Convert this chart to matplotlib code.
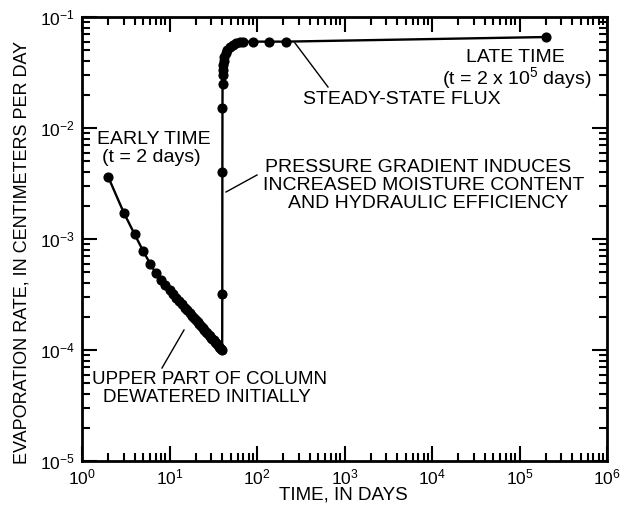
import math
import matplotlib
matplotlib.use("Agg")
import matplotlib.pyplot as plt
from matplotlib.ticker import LogLocator, FuncFormatter, NullFormatter
from matplotlib.lines import Line2D

plt.rcParams['font.family'] = ['Liberation Sans', 'DejaVu Sans']
plt.rcParams['mathtext.default'] = 'regular'

# ---- data ----
time_days = [2, 3, 4, 5, 6, 7, 8, 9, 10, 11, 12, 13, 14, 15, 16, 17, 18, 19, 20,
             21, 22, 23, 24, 25, 26, 27, 28, 29, 30, 31, 32, 33, 34, 35, 36, 37,
             38, 39, 40,
             40.1, 40.2, 40.3, 40.4, 40.5, 40.7, 41, 41.5, 42.5, 44, 46, 49, 53,
             58, 64, 70, 90, 137, 214, 200000]
evap_rate = [3.6e-3, 1.73e-3, 1.10e-3, 7.8e-4, 6.0e-4, 4.9e-4, 4.3e-4, 3.85e-4,
             3.5e-4, 3.2e-4, 2.95e-4, 2.75e-4, 2.57e-4, 2.4e-4, 2.27e-4, 2.15e-4,
             2.04e-4, 1.94e-4, 1.85e-4, 1.77e-4, 1.70e-4, 1.63e-4, 1.57e-4,
             1.51e-4, 1.46e-4, 1.41e-4, 1.37e-4, 1.33e-4, 1.29e-4, 1.25e-4,
             1.22e-4, 1.19e-4, 1.16e-4, 1.13e-4, 1.10e-4, 1.07e-4, 1.05e-4,
             1.02e-4, 1.0e-4,
             3.2e-4, 4.0e-3, 1.5e-2, 2.5e-2, 3.0e-2, 3.3e-2, 3.7e-2, 4.0e-2,
             4.4e-2, 4.7e-2, 5.0e-2, 5.35e-2, 5.6e-2, 5.8e-2, 5.92e-2, 6.0e-2,
             6.0e-2, 6.0e-2, 6.0e-2, 6.6e-2]

x_limits = (1, 1e6)
y_limits = (1e-5, 1e-1)
x_label = "TIME, IN DAYS"
y_label = "EVAPORATION RATE, IN CENTIMETERS PER DAY"

W, H = 623, 507
fig = plt.figure(figsize=(W / 100, H / 100), dpi=100)
ax = fig.add_axes([82 / W, 1 - 461 / H, (607 - 82) / W, (461 - 17) / H])

ax.plot(time_days, evap_rate, color='black', lw=1.7, marker='o',
        markersize=6.3, markerfacecolor='black', markeredgecolor='black',
        solid_joinstyle='round')

ax.set_xscale('log')
ax.set_yscale('log')
ax.set_xlim(*x_limits)
ax.set_ylim(*y_limits)

fmt = FuncFormatter(lambda v, p: r'$10^{%d}$' % round(math.log10(v)))
for axis in (ax.xaxis, ax.yaxis):
    axis.set_major_locator(LogLocator(base=10, numticks=20))
    axis.set_minor_locator(LogLocator(base=10, subs=range(2, 10), numticks=20))
    axis.set_major_formatter(fmt)
    axis.set_minor_formatter(NullFormatter())

ax.tick_params(which='both', direction='in', top=True, right=True,
               labelsize=12.5, color='black')
ax.tick_params(which='major', length=11, width=1.5)
ax.tick_params(which='minor', length=6, width=1.5)
ax.tick_params(axis='x', which='major', pad=5)
ax.tick_params(axis='y', which='major', pad=5)
for s in ax.spines.values():
    s.set_linewidth(2.0)


def fp(x, y):
    return (x / W, 1 - y / H)


fig.text(*fp(343, 495), x_label, ha='center', va='center', fontsize=13.5)
fig.text(*fp(22, 252), y_label, ha='center', va='center', fontsize=13,
         rotation=90)


def txt(x, y, s, ha='center', size=14):
    fig.text(*fp(x, y), s, ha=ha, va='center', fontsize=size,
             multialignment='center', linespacing=1.1)


def leader(x1, y1, x2, y2):
    (a, b), (c, d) = fp(x1, y1), fp(x2, y2)
    fig.add_artist(Line2D([a, c], [b, d], transform=fig.transFigure,
                          color='black', lw=1.0))


txt(154, 139, "EARLY TIME")
txt(151, 158, "(t = 2 days)")
txt(402, 100, "STEADY-STATE FLUX")
leader(295, 43, 328, 87)
txt(515, 57, "LATE TIME")
txt(517, 78, r"(t = 2 x 10$^{5}$ days)")
txt(418, 168, "PRESSURE GRADIENT INDUCES")
txt(424, 186, "INCREASED MOISTURE CONTENT")
txt(428, 203, "AND HYDRAULIC EFFICIENCY")
leader(257, 175, 226, 192)
txt(210, 379, "UPPER PART OF COLUMN", size=13.5)
txt(207, 397, "DEWATERED INITIALLY", size=13.5)
leader(184, 330, 162, 368)

fig.savefig("out.png", dpi=100)
